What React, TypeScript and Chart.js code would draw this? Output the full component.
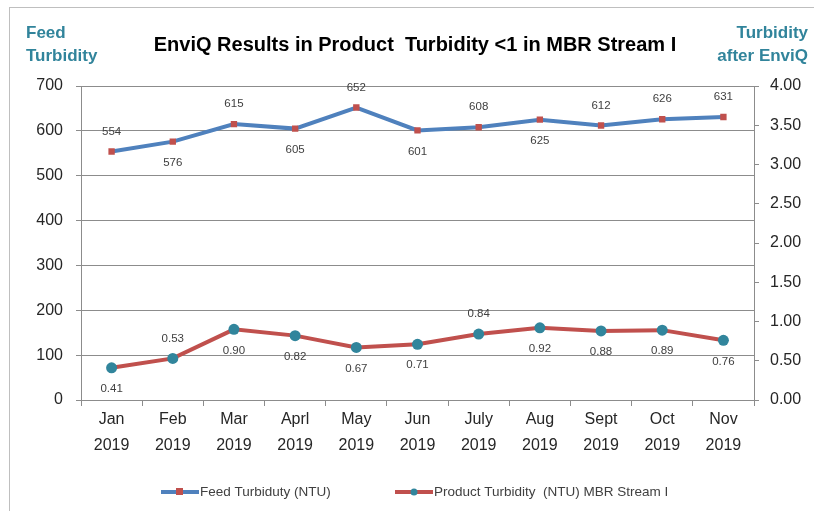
import React, { useEffect, useRef } from "react";
import { Chart, registerables } from "chart.js";

Chart.register(...registerables);

const months = ["Jan", "Feb", "Mar", "Aprl", "May", "Jun", "July", "Aug", "Sept", "Oct", "Nov"];
const year = "2019";
const feedTurbidity = [554, 576, 615, 605, 652, 601, 608, 625, 612, 626, 631];
const productTurbidity = [0.41, 0.53, 0.9, 0.82, 0.67, 0.71, 0.84, 0.92, 0.88, 0.89, 0.76];
const feedLabelSide = ["up", "down", "up", "down", "up", "down", "up", "down", "up", "up", "up"];
const productLabelSide = ["down", "up", "down", "down", "down", "down", "up", "down", "down", "down", "down"];

const titleText = "EnviQ Results in Product  Turbidity <1 in MBR Stream I";
const feedName = "Feed Turbiduty (NTU)";
const productName = "Product Turbidity  (NTU) MBR Stream I";

const FONT = "'Liberation Sans', Arial, sans-serif";
const BLUE = "#4F81BD";
const RED = "#C0504D";
const TEAL = "#31859C";
const GRID = "#8C8C8C";
const AXT = "#31849B";

const W = 814;
const H = 511;
const PL = 81;
const PR = 754;
const PT = 86;
const PB = 400;

const decorPlugin = {
  id: "decor",
  beforeDraw(chart: any) {
    const ctx = chart.ctx;
    ctx.save();
    ctx.fillStyle = "#ffffff";
    ctx.fillRect(0, 0, W, H);
    ctx.strokeStyle = "#BFBFBF";
    ctx.lineWidth = 1;
    ctx.strokeRect(9.5, 7.5, W + 20, H + 20);
    ctx.restore();
  },
  afterDraw(chart: any) {
    const ctx = chart.ctx;
    ctx.save();
    // title
    ctx.fillStyle = "#000000";
    ctx.font = `bold 20px ${FONT}`;
    ctx.textAlign = "center";
    ctx.textBaseline = "middle";
    ctx.fillText(titleText, 415, 45);
    // axis titles
    ctx.fillStyle = AXT;
    ctx.font = `bold 17px ${FONT}`;
    ctx.textAlign = "left";
    ctx.fillText("Feed", 26, 33);
    ctx.fillText("Turbidity", 26, 56);
    ctx.textAlign = "right";
    ctx.fillText("Turbidity", 808, 33);
    ctx.fillText("after EnviQ", 808, 56);
    // legend
    const ly = 492;
    ctx.lineWidth = 4;
    ctx.strokeStyle = BLUE;
    ctx.beginPath();
    ctx.moveTo(161, ly);
    ctx.lineTo(199, ly);
    ctx.stroke();
    ctx.fillStyle = RED;
    ctx.fillRect(176, ly - 4, 7, 7);
    ctx.strokeStyle = RED;
    ctx.beginPath();
    ctx.moveTo(395, ly);
    ctx.lineTo(433, ly);
    ctx.stroke();
    ctx.fillStyle = TEAL;
    ctx.beginPath();
    ctx.arc(414, ly, 3.5, 0, Math.PI * 2);
    ctx.fill();
    ctx.fillStyle = "#404040";
    ctx.font = `13.5px ${FONT}`;
    ctx.textAlign = "left";
    ctx.textBaseline = "middle";
    ctx.fillText(feedName, 200, ly);
    ctx.fillText(productName, 434, ly);
    ctx.restore();
  },
  afterDatasetsDraw(chart: any) {
    const ctx = chart.ctx;
    ctx.save();
    ctx.font = `11.5px ${FONT}`;
    ctx.fillStyle = "#404040";
    ctx.textAlign = "center";
    ctx.textBaseline = "middle";
    const sets = [
      { idx: 0, vals: feedTurbidity.map((v) => String(v)), side: feedLabelSide },
      { idx: 1, vals: productTurbidity.map((v) => v.toFixed(2)), side: productLabelSide },
    ];
    sets.forEach((s) => {
      const meta = chart.getDatasetMeta(s.idx);
      meta.data.forEach((pt: any, i: number) => {
        const dy = s.side[i] === "up" ? -20 : 21;
        ctx.fillText(s.vals[i], pt.x, pt.y + dy);
      });
    });
    ctx.restore();
  },
};

export default function App() {
  const ref = useRef<HTMLCanvasElement | null>(null);
  useEffect(() => {
    if (!ref.current) return;
    const chart = new Chart(ref.current, {
      type: "line",
      data: {
        labels: months.map((m) => [m, year]),
        datasets: [
          {
            label: feedName,
            data: feedTurbidity,
            yAxisID: "y",
            borderColor: BLUE,
            borderWidth: 4,
            pointStyle: "rect",
            pointRadius: 4.5,
            pointBackgroundColor: RED,
            pointBorderColor: RED,
            pointBorderWidth: 0,
            tension: 0,
          },
          {
            label: productName,
            data: productTurbidity,
            yAxisID: "y1",
            borderColor: RED,
            borderWidth: 4,
            pointStyle: "circle",
            pointRadius: 5.5,
            pointBackgroundColor: TEAL,
            pointBorderColor: TEAL,
            pointBorderWidth: 0,
            tension: 0,
          },
        ],
      },
      options: {
        animation: false,
        responsive: false,
        maintainAspectRatio: false,
        devicePixelRatio: 1,
        layout: { padding: { top: PT, left: 0, right: 0, bottom: 0 } },
        plugins: {
          legend: { display: false },
          title: { display: false },
          tooltip: { enabled: false },
        },
        scales: {
          x: {
            offset: true,
            grid: {
              offset: true,
              drawOnChartArea: false,
              drawTicks: true,
              tickLength: 6,
              color: GRID,
            },
            border: { display: true, color: GRID, width: 1 },
            ticks: {
              color: "#262626",
              font: { family: FONT, size: 16, lineHeight: 1.6 },
              padding: 1,
              maxRotation: 0,
              autoSkip: false,
            },
            afterFit(s: any) {
              s.height = H - PB;
            },
          },
          y: {
            position: "left",
            min: 0,
            max: 700,
            ticks: {
              stepSize: 100,
              color: "#262626",
              font: { family: FONT, size: 16 },
              padding: 13,
            },
            grid: { color: GRID, tickLength: 5, drawTicks: true },
            border: { display: true, color: GRID, width: 1 },
            afterFit(s: any) {
              s.width = PL;
            },
          },
          y1: {
            position: "right",
            min: 0,
            max: 4,
            ticks: {
              stepSize: 0.5,
              color: "#262626",
              font: { family: FONT, size: 16 },
              padding: 11,
              callback: (v: any) => Number(v).toFixed(2),
            },
            grid: { drawOnChartArea: false, color: GRID, tickLength: 5, drawTicks: true },
            border: { display: true, color: GRID, width: 1 },
            afterFit(s: any) {
              s.width = W - PR;
            },
          },
        },
      },
      plugins: [decorPlugin],
    });
    return () => chart.destroy();
  }, []);
  return (
    <div style={{ position: "fixed", left: 0, top: 0, width: W, height: H, background: "#fff" }}>
      <canvas ref={ref} width={W} height={H} style={{ width: W, height: H, display: "block" }} />
    </div>
  );
}
